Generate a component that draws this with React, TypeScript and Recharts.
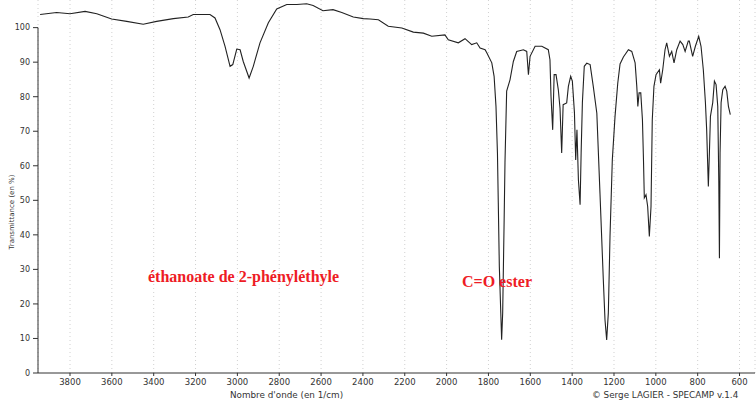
import { LineChart, Line, XAxis, YAxis, CartesianGrid, ReferenceLine } from "recharts";

// wavenumber (cm-1) from left to right
const wavenumbers = [
  3943, 3864, 3800, 3728, 3672, 3601, 3529, 3450, 3386, 3306, 3235, 3211, 3131, 3107,
  3083, 3059, 3035, 3022, 3003, 2987, 2972, 2944, 2924, 2892, 2852, 2812, 2764, 2716,
  2669, 2638, 2591, 2543, 2501, 2446, 2398, 2366, 2326, 2279, 2214, 2159, 2111, 2071,
  2008, 1992, 1944, 1912, 1880, 1856, 1840, 1816, 1808, 1784, 1773, 1764, 1757, 1753,
  1748, 1741, 1737, 1732, 1725, 1721, 1713, 1697, 1681, 1665, 1633, 1617, 1609, 1601,
  1577, 1545, 1514, 1506, 1501, 1493, 1486, 1477, 1466, 1458, 1450, 1443, 1426, 1418,
  1407, 1399, 1389, 1383, 1377, 1370, 1362, 1357, 1351, 1342, 1330, 1314, 1299, 1282,
  1267, 1251, 1243, 1235, 1227, 1219, 1208, 1195, 1182, 1171, 1155, 1131, 1115, 1099,
  1091, 1086, 1080, 1072, 1064, 1059, 1055, 1047, 1039, 1031, 1023, 1017, 1009, 999,
  983, 977, 967, 956, 948, 935, 924, 913, 900, 884, 871, 860, 845, 840, 824, 811, 795,
  784, 773, 763, 757, 749, 744, 739, 728, 720, 712, 704, 699, 696, 693, 688, 680, 669,
  661, 653, 644,
];

// transmittance (%)
const transmittance = [
  103.8, 104.4, 104, 104.7, 104, 102.5, 101.8, 101, 101.8, 102.6, 103.1, 103.8, 103.8, 102.8,
  99.4, 94.6, 88.8, 89.3, 93.8, 93.6, 90.2, 85.4, 88.8, 95.6, 101.4, 105.4, 106.7, 106.7,
  106.9, 106.4, 104.9, 105.2, 104.4, 103.1, 102.6, 102.5, 102.3, 100.4, 99.9, 98.7, 98.4, 97.5,
  97.9, 96.5, 95.6, 96.8, 95.1, 95.6, 94.1, 93.6, 92.7, 89.8, 85.9, 77.2, 63.7, 49.3,
  30.8, 17.4, 9.6, 17.4, 44.3, 60.9, 81.6, 84.9, 90.2, 93.1, 93.6, 93.1, 86.4, 91.7,
  94.6, 94.6, 93.6, 90.7, 80.1, 70.4, 86.4, 86.4, 82, 76.7, 63.7, 77.7, 78.2, 83,
  85.9, 84.5, 75.4, 61.7, 70.4, 55.9, 48.7, 63.8, 78.3, 88.8, 89.7, 89.3, 83, 75.2,
  52.1, 27, 15.4, 9.6, 17.4, 39.5, 61.7, 74.3, 83.9, 89.5, 91.5, 93.6, 93.1, 89.8,
  83, 77.2, 81.1, 81.1, 73.3, 61.7, 50.7, 51.6, 48.2, 39.5, 48.2, 73.3, 83, 86.4,
  87.8, 83.9, 87.8, 93.6, 95.6, 91.7, 93.1, 89.8, 93.6, 96.1, 95.1, 93.1, 96.1, 96.1, 91.7, 94.6, 97.5,
  94.6, 87.8, 78.3, 70.4, 54, 63.7, 74.3, 78.3, 84.5, 83.5, 77.2, 55, 33.2, 63.7, 78.3, 82, 83,
  81.6, 77.2, 74.8,
];

const xTicks = [3800, 3600, 3400, 3200, 3000, 2800, 2600, 2400, 2200, 2000, 1800, 1600, 1400, 1200, 1000, 800, 600];
const yTicks = [0, 10, 20, 30, 40, 50, 60, 70, 80, 90, 100];

const data = wavenumbers.map((w, i) => ({ w, t: transmittance[i] }));

const tickStyle = { fontSize: 8.5, fill: "#333", fontFamily: "DejaVu Sans" };
const noteStyle = {
  position: "absolute" as const,
  color: "#ee1c25",
  fontFamily: "'Liberation Serif', serif",
  fontWeight: 700,
  fontSize: 16,
  whiteSpace: "nowrap" as const,
  lineHeight: "18px",
};
const smallText = {
  position: "absolute" as const,
  color: "#333",
  fontFamily: "DejaVu Sans",
  fontSize: 8.8,
  whiteSpace: "nowrap" as const,
  lineHeight: "10px",
};

export default function App() {
  return (
    <div style={{ position: "absolute", left: 0, top: 0, width: 756, height: 401, background: "#fff", overflow: "hidden" }}>
      <LineChart width={756} height={401} data={data} margin={{ top: 0, right: 1, bottom: 0, left: 0 }}>
        <CartesianGrid horizontal={false} stroke="#d0d0d0" strokeDasharray="1 3" />
        <XAxis
          type="number"
          dataKey="w"
          domain={[526, 3953]}
          reversed
          allowDataOverflow
          ticks={xTicks}
          interval={0}
          height={28}
          tick={tickStyle}
          tickSize={3}
          tickMargin={3}
          stroke="#333"
        />
        <YAxis
          type="number"
          domain={[0, 108]}
          allowDataOverflow
          ticks={yTicks}
          interval={0}
          width={38}
          tick={{ ...tickStyle, fontSize: 8 }}
          tickSize={5}
          tickMargin={3}
          axisLine={false}
          stroke="#333"
        />
        <ReferenceLine
          segment={[
            { x: 3953, y: 0 },
            { x: 3953, y: 100 },
          ]}
          stroke="#333"
          ifOverflow="visible"
        />
        <Line
          type="linear"
          dataKey="t"
          stroke="#222"
          strokeWidth={1.1}
          dot={false}
          isAnimationActive={false}
        />
      </LineChart>
      <div style={{ ...noteStyle, left: 148, top: 268 }}>éthanoate de 2-phényléthyle</div>
      <div style={{ ...noteStyle, left: 462, top: 273 }}>C=O ester</div>
      <div style={{ ...smallText, left: 230, top: 390 }}>Nombre d'onde (en 1/cm)</div>
      <div style={{ ...smallText, left: 592, top: 390 }}>© Serge LAGIER - SPECAMP v.1.4</div>
      <div
        style={{
          ...smallText,
          fontSize: 7,
          left: 12,
          top: 212,
          transform: "translate(-50%, -50%) rotate(-90deg)",
        }}
      >
        Transmittance (en %)
      </div>
    </div>
  );
}
